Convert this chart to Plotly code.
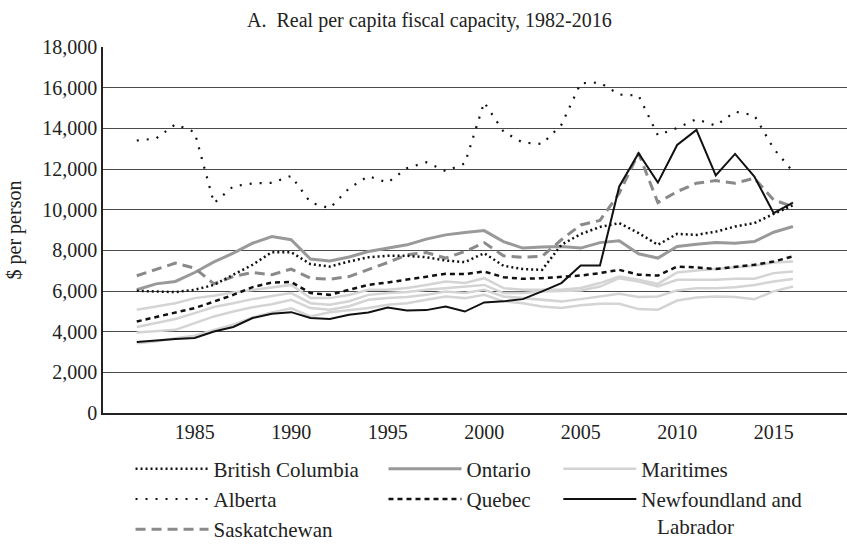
import plotly.graph_objects as go

# === DATA ===
YEARS = list(range(1982, 2017))

BRITISH_COLUMBIA = [6010, 5980, 5945, 6060, 6300, 6800, 7290, 7910, 7910, 7320, 7200, 7450,
                    7660, 7730, 7730, 7660, 7500, 7420, 7860, 7240, 7080, 7040, 8270, 8800,
                    9150, 9340, 8850, 8270, 8810, 8760, 8920, 9170, 9340, 9790, 10220]
ALBERTA = [13400, 13500, 14200, 13810, 10320, 11150, 11290, 11320, 11660, 10350, 10070, 11050,
           11650, 11330, 12040, 12330, 11900, 12270, 15280, 13840, 13300, 13230, 14170, 16220,
           16250, 15660, 15610, 13660, 14020, 14450, 14130, 14820, 14640, 13000, 11870]
SASKATCHEWAN = [6750, 7050, 7370, 7120, 6350, 6710, 6910, 6800, 7080, 6630, 6580, 6710,
                7040, 7400, 7780, 7890, 7620, 7940, 8380, 7730, 7660, 7700, 8520, 9250,
                9470, 10810, 12780, 10350, 10890, 11300, 11430, 11300, 11550, 10480, 10150]
ONTARIO = [6060, 6350, 6470, 6910, 7430, 7860, 8350, 8680, 8520, 7570, 7480, 7670,
           7940, 8110, 8270, 8550, 8760, 8880, 8970, 8430, 8110, 8160, 8190, 8110,
           8380, 8470, 7830, 7620, 8190, 8300, 8380, 8350, 8430, 8890, 9170]
QUEBEC = [4500, 4720, 4910, 5160, 5480, 5810, 6190, 6420, 6440, 5900, 5810, 6060,
          6300, 6420, 6550, 6710, 6845, 6830, 6960, 6680, 6600, 6630, 6680, 6760,
          6880, 7040, 6800, 6760, 7200, 7160, 7080, 7200, 7290, 7450, 7700]
NEWFOUNDLAND = [3490, 3570, 3640, 3690, 4010, 4230, 4670, 4880, 4960, 4670, 4620, 4830,
                4945, 5190, 5040, 5060, 5240, 4990, 5440, 5490, 5600, 5980, 6390, 7250,
                7250, 11140, 12780, 11330, 13180, 13920, 11680, 12740, 11630, 9830, 10350]

# Maritime provinces, one light grey line each
MARITIMES = [
    [5080, 5240, 5400, 5650, 5770, 5930, 6060, 6200, 6300, 5650, 5650, 5800,
     6060, 6060, 6150, 6300, 6470, 6390, 6630, 6140, 6060, 6060, 6060, 6150,
     6390, 6710, 6550, 6350, 6910, 7010, 7080, 7170, 7240, 7400, 7450],
    [4230, 4420, 4620, 4910, 5210, 5400, 5600, 5750, 5900, 5400, 5320, 5500,
     5810, 5900, 5950, 6060, 6140, 6220, 6300, 5900, 5900, 5980, 6000, 6030,
     6220, 6630, 6470, 6220, 6550, 6550, 6550, 6600, 6600, 6880, 6960],
    [3960, 4040, 4090, 4420, 4750, 4990, 5200, 5350, 5570, 5160, 5080, 5250,
     5570, 5650, 5700, 5810, 5980, 5900, 6060, 5730, 5650, 5570, 5490, 5600,
     5730, 5860, 5700, 5730, 6030, 6140, 6140, 6190, 6300, 6470, 6590],
    [3430, 3520, 3680, 3800, 4090, 4340, 4700, 4950, 5150, 4750, 4950, 5050,
     5160, 5320, 5400, 5570, 5730, 5650, 5810, 5490, 5400, 5240, 5160, 5300,
     5370, 5370, 5110, 5080, 5530, 5680, 5730, 5700, 5600, 5980, 6220],
]

FONT = "Liberation Serif"

fig = go.Figure()

# light grey maritimes go in the back
for i, series in enumerate(MARITIMES):
    fig.add_trace(go.Scatter(
        x=YEARS, y=series, mode="lines", name="Maritimes", legend="legend3",
        legendgroup="mar", showlegend=(i == 0), legendrank=1,
        line=dict(color="#d4d4d4", width=2.5)))

fig.add_trace(go.Scatter(x=YEARS, y=ONTARIO, mode="lines", name="Ontario",
                         legend="legend2", legendrank=1,
                         line=dict(color="#999999", width=3)))
fig.add_trace(go.Scatter(x=YEARS, y=SASKATCHEWAN, mode="lines", name="Saskatchewan",
                         legendrank=3,
                         line=dict(color="#8a8a8a", width=3, dash="10px,6px")))
fig.add_trace(go.Scatter(x=YEARS, y=QUEBEC, mode="lines", name="Quebec",
                         legend="legend2", legendrank=2,
                         line=dict(color="#111111", width=2.5, dash="5px,4px")))
fig.add_trace(go.Scatter(x=YEARS, y=NEWFOUNDLAND, mode="lines",
                         name="Newfoundland and<br>&nbsp;&nbsp;&nbsp;Labrador",
                         legend="legend3", legendrank=2,
                         line=dict(color="#111111", width=2)))
fig.add_trace(go.Scatter(x=YEARS, y=BRITISH_COLUMBIA, mode="lines", name="British Columbia",
                         legendrank=1, line=dict(color="#111111", width=2.5, dash="2px,3px")))
fig.add_trace(go.Scatter(x=YEARS, y=ALBERTA, mode="lines", name="Alberta", legendrank=2,
                         line=dict(color="#111111", width=2.2, dash="2px,8px")))

# legends are placed against the whole page so they don't push the plot margins
legend_style = dict(orientation="v", xanchor="left", yref="container", y=0.183,
                    yanchor="top", traceorder="normal", itemwidth=73, valign="top",
                    font=dict(family=FONT, size=21, color="#222"),
                    bgcolor="rgba(0,0,0,0)")

fig.update_layout(
    width=847, height=549,
    margin=dict(l=103, r=0, t=47, b=136),
    paper_bgcolor="white", plot_bgcolor="white",
    font=dict(family=FONT, size=20, color="#222"),
    title=dict(text="A.&nbsp; Real per capita fiscal capacity, 1982-2016",
               x=0.507, xanchor="center", y=0.963, yanchor="middle",
               font=dict(family=FONT, size=20, color="#222")),
    xaxis=dict(range=[1980.25, 2018.8], tick0=1985, dtick=5, showgrid=False,
               showline=True, linecolor="#222", linewidth=2, ticks="",
               tickfont=dict(size=20), zeroline=False, automargin=False),
    yaxis=dict(range=[0, 18000], dtick=2000, tickformat=",", showgrid=True,
               gridcolor="#4a4a4a", gridwidth=1.3, showline=True, linecolor="#222",
               linewidth=1.5, ticks="", tickfont=dict(size=20), zeroline=False,
               automargin=False,
               title=dict(text="$ per person", font=dict(size=20))),
    showlegend=True,
    legend=dict(x=0.037, **legend_style),
    legend2=dict(x=0.377, **legend_style),
    legend3=dict(x=0.612, **legend_style),
)

# drop the default 8px body margin so the figure fills the window exactly
fig.write_html("out.html", config={"displayModeBar": False},
               post_script="document.body.style.margin='0';")
